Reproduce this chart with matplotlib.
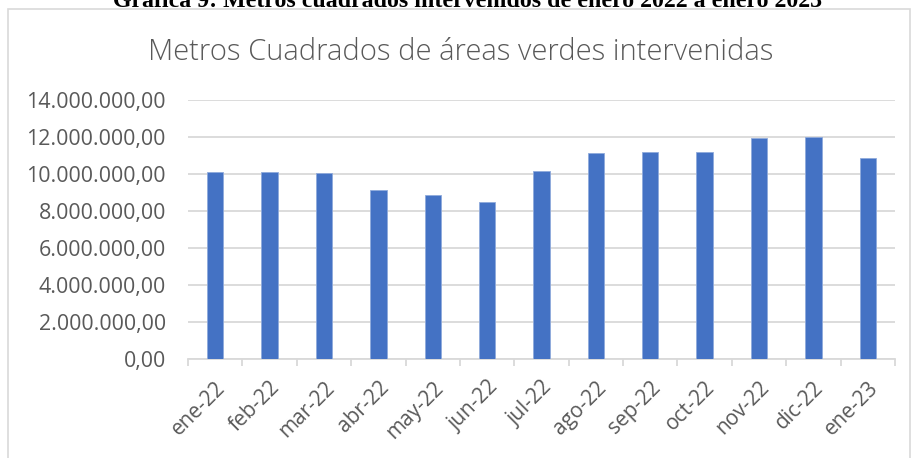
import matplotlib
matplotlib.use('Agg')
import matplotlib.pyplot as plt
from matplotlib.patches import Rectangle
from matplotlib.ticker import FuncFormatter, MultipleLocator
import numpy as np

months = ['ene-22', 'feb-22', 'mar-22', 'abr-22', 'may-22', 'jun-22', 'jul-22',
          'ago-22', 'sep-22', 'oct-22', 'nov-22', 'dic-22', 'ene-23']
m2 = [10120000, 10100000, 10080000, 9110000, 8870000, 8480000, 10140000,
      11130000, 11200000, 11180000, 11920000, 11980000, 10840000]

GRAY = '#595959'
GRID = '#d9d9d9'
BLUE = '#4472C4'

plt.rcParams['font.family'] = ['Open Sans', 'DejaVu Sans']

fig = plt.figure(figsize=(9.11, 4.58), dpi=100)
W, H = 911, 458
ax = fig.add_axes([188/W, 1-359/H, (895-188)/W, (359-100)/H])

x = np.arange(len(months))
ax.bar(x, m2, width=0.3, color=BLUE, edgecolor='#8FAADC', linewidth=0.6, zorder=3)

ax.set_xlim(-0.5, len(months)-0.5)
ax.set_ylim(0, 14e6)
ax.yaxis.set_major_locator(MultipleLocator(2e6))
fmt = lambda v, p: f'{v:,.2f}'.replace(',', 'X').replace('.', ',').replace('X', '.')
ax.yaxis.set_major_formatter(FuncFormatter(fmt))
ax.grid(axis='y', color=GRID, lw=1.3, zorder=0)
for s in ['top', 'right', 'left']:
    ax.spines[s].set_visible(False)
ax.spines['bottom'].set_color(GRID)
ax.spines['bottom'].set_linewidth(1.3)
ax.tick_params(axis='y', length=0, pad=16, labelsize=15.4, labelcolor=GRAY)

ax.set_xticks(x)
ax.set_xticklabels(months, rotation=45, ha='right', va='top', rotation_mode='anchor')
ax.tick_params(axis='x', which='major', length=0, pad=13, labelsize=15, labelcolor=GRAY)
ax.set_xticks(np.arange(-0.5, len(months)), minor=True)
ax.tick_params(axis='x', which='minor', length=5, width=1.3, color=GRID)

fig.text(461/W, 1-60/H, 'Metros Cuadrados de áreas verdes intervenidas', ha='center',
         va='baseline', fontsize=21, color=GRAY, fontweight='light')
fig.text(468/W, 1-7/H, 'Gráfica 9: Metros cuadrados intervenidos de enero 2022 a enero 2023',
         ha='center', va='baseline', fontsize=17.2, fontweight='bold',
         family=['Liberation Serif', 'DejaVu Serif'], color='black')

fig.add_artist(Rectangle((8/W, -0.1), (910-8)/W, 1+0.1-9/H, transform=fig.transFigure,
                         fill=False, edgecolor=GRID, lw=1.2))

fig.savefig('out.png', dpi=100)
